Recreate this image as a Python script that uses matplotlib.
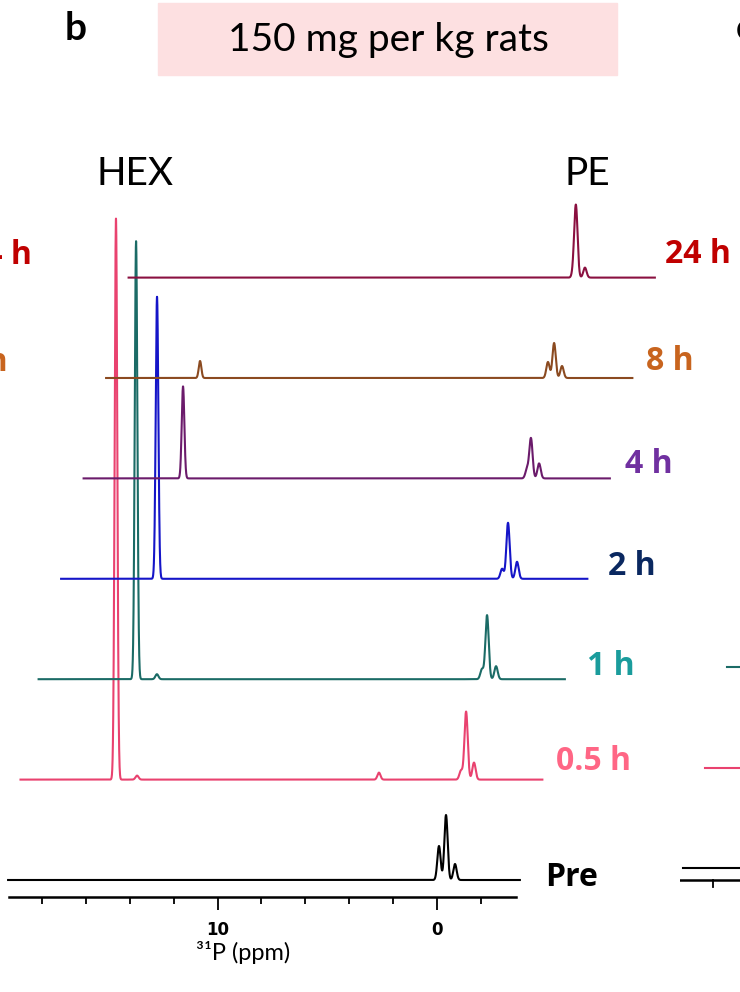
import numpy as np
import matplotlib.pyplot as plt
from matplotlib.patches import Rectangle

# time points, bottom to top
labels = ["Pre", "0.5 h", "1 h", "2 h", "4 h", "8 h", "24 h"]

# HEX signal (ppm, height) per spectrum, None where absent
hex_ppm = [None, 15.65, 15.76, 15.83, 15.67, 15.92, None]
hex_height = [0, 561, 438, 282, 92, 17, 0]

# PE multiplet (ppm, height) per spectrum
pe_peaks = [
    [(-0.09, 34), (-0.41, 65), (-0.82, 16)],
    [(-0.07, 9), (-0.30, 68), (-0.66, 17)],
    [(0.00, 10), (-0.23, 64), (-0.64, 13)],
    [(0.11, 10), (-0.16, 56), (-0.57, 17)],
    [(0.00, 9), (-0.18, 40), (-0.55, 15)],
    [(0.07, 16), (-0.21, 35), (-0.57, 12)],
    [(-0.09, 8), (-0.18, 69), (-0.59, 10)],
]

# other small signals (ppm, height)
minor_peaks = [
    [],
    [(3.67, 7), (14.69, 4)],
    [(14.81, 5)],
    [],
    [],
    [],
    [],
]

spec_start = [19.54, 20.0, 20.2, 20.2, 20.2, 20.2, 20.2]
spec_end = -3.78

# styling / layout
trace_colors = ["#000000", "#e9426f", "#1b6b66", "#1515c8", "#6b1b6b", "#8b4a20", "#8a1040"]
label_colors = ["#000000", "#ff6685", "#1a9c9c", "#0a2860", "#7030a0", "#c8641e", "#c00000"]
y_step = 100.4
x_step = 1.025
label_dx = [25, 14, 22, 21, 15, 14, 10]
label_dy = [3, 18, 13, 12, 14, 17, 23]


def spectrum(ppm, hx, hh, pe, minor):
    y = np.zeros_like(ppm)
    if hx is not None:
        y += hh * np.exp(-0.5 * ((ppm - hx) / 0.06) ** 2)
    for c, h in pe:
        y += h * np.exp(-0.5 * ((ppm - c) / 0.075) ** 2)
    for c, h in minor:
        y += h * np.exp(-0.5 * ((ppm - c) / 0.07) ** 2)
    return y


W, H = 740, 992
fig = plt.figure(figsize=(W / 100, H / 100), dpi=100)

ax = fig.add_axes([9 / W, (H - 897) / H, (516 - 9) / W, (897 - 190) / H])
ax.set_xlim((437 - 9) / 21.95, (437 - 516) / 21.95)
ax.set_ylim(-17, 690)

for k, lab in enumerate(labels):
    ppm = np.arange(spec_start[k], spec_end, -0.005)
    y = spectrum(ppm, hex_ppm[k], hex_height[k], pe_peaks[k], minor_peaks[k])
    xs = ppm - k * x_step
    base = k * y_step
    ax.plot(xs, y + base, color=trace_colors[k], lw=1.5, clip_on=False)
    ax.annotate(lab, xy=(xs[-1], base), xytext=(label_dx[k], label_dy[k]),
                textcoords="offset pixels", ha="left", va="center",
                fontsize=23, fontweight="bold", family=["Open Sans", "DejaVu Sans"],
                color=label_colors[k], annotation_clip=False)

for s in ["left", "right", "top"]:
    ax.spines[s].set_visible(False)
ax.spines["bottom"].set_linewidth(1.8)
ax.set_yticks([])
ax.set_xticks([0, 10])
ax.set_xticks([t for t in range(-2, 19, 2) if t not in (0, 10)], minor=True)
ax.tick_params(axis="x", which="major", length=9, width=1.3, pad=8,
               labelsize=12)
ax.tick_params(axis="x", which="minor", length=5, width=1.3)
for t in ax.get_xticklabels():
    t.set_fontweight("bold")
    t.set_family(["Liberation Sans Narrow", "DejaVu Sans"])

fig.text(243 / W, 1 - 952 / H, "³¹P (ppm)", ha="center", va="center",
         fontsize=17, family=["Lato", "DejaVu Sans"])

# header
fig.patches.append(Rectangle((158 / W, 1 - 75 / H), (617 - 158) / W, 72 / H,
                             transform=fig.transFigure, color="#fde0e1", zorder=0))
fig.text(388 / W, 1 - 40 / H, "150 mg per kg rats", ha="center", va="center",
         fontsize=28, family=["Lato", "DejaVu Sans"])
fig.text(65 / W, 1 - 40 / H, "b", ha="left", va="baseline", fontsize=28,
         fontweight="bold", family=["Lato", "DejaVu Sans"])
fig.text(736 / W, 1 - 40 / H, "c", ha="left", va="baseline", fontsize=28,
         fontweight="bold", family=["Lato", "DejaVu Sans"])
fig.text(97 / W, 1 - 185 / H, "HEX", ha="left", va="baseline", fontsize=28,
         family=["Lato", "DejaVu Sans"])
fig.text(565 / W, 1 - 185 / H, "PE", ha="left", va="baseline", fontsize=28,
         family=["Lato", "DejaVu Sans"])

# neighbouring panel labels cut by the crop
fig.text(32 / W, 1 - 255 / H, "24 h", ha="right", va="center", fontsize=23,
         fontweight="bold", family=["Open Sans", "DejaVu Sans"], color="#c00000")
fig.text(8 / W, 1 - 362 / H, "8 h", ha="right", va="center", fontsize=23,
         fontweight="bold", family=["Open Sans", "DejaVu Sans"], color="#c8641e")

# neighbouring panel c traces (only their starts are visible)
axc = fig.add_axes([680 / W, (H - 885) / H, 500 / W, (885 - 190) / H])
axc.set_xlim(0, 500)
axc.set_ylim(-5, 690)
axc.axis("off")
axc.axhline(0, color="black", lw=1.8)
axc.plot([33, 33], [0, -7], color="black", lw=1.3, clip_on=False)
for k in range(3):
    axc.plot([3 + 22 * k, 500], [12 + (k * 100.5 if k else 0)] * 2,
             color=trace_colors[k], lw=1.5)

fig.savefig("out.png", dpi=100)
